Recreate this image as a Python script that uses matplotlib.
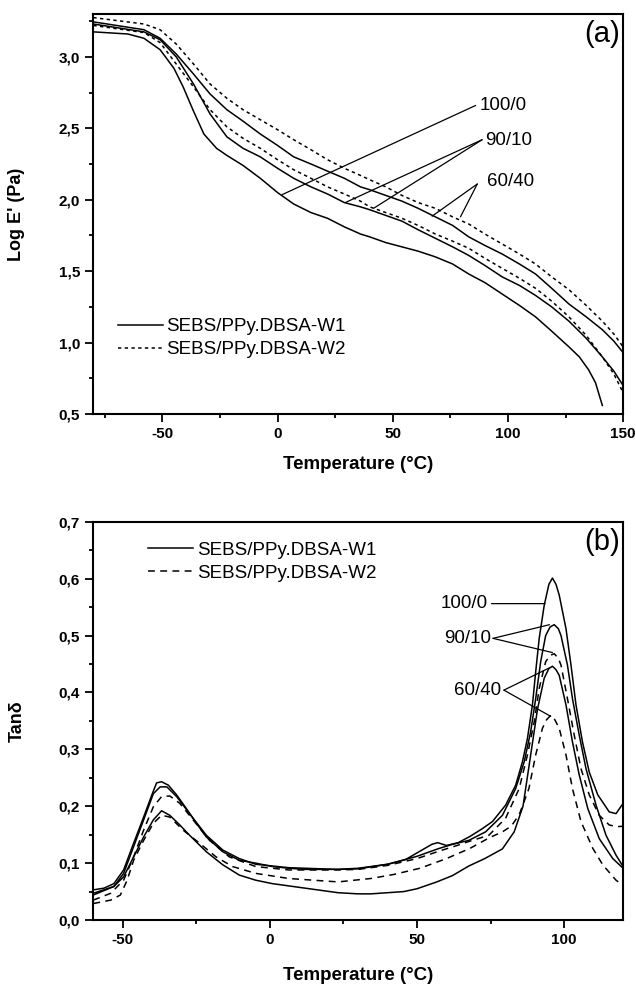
import matplotlib
matplotlib.use('Agg')
import matplotlib.pyplot as plt
from matplotlib.ticker import MultipleLocator, FuncFormatter
from matplotlib.lines import Line2D

plt.rcParams['font.family'] = ['Liberation Sans', 'DejaVu Sans']
plt.rcParams['axes.unicode_minus'] = False

# ---- (a) storage modulus, Log E' vs temperature ----
t_100_0_a = [-80, -65, -58, -51, -45, -41, -36.5, -32, -26.5, -22, -15, -7.5, 0, 7, 14.5, 21.7,
             29, 36, 40, 47, 54, 61, 68.5, 76, 83, 90, 97.5, 105, 112, 119, 126.5, 131, 135, 138, 141]
e_100_0_a = [3.175, 3.16, 3.13, 3.05, 2.92, 2.79, 2.62, 2.46, 2.36, 2.31, 2.24, 2.15, 2.05, 1.97, 1.91, 1.87,
             1.81, 1.76, 1.74, 1.70, 1.67, 1.64, 1.60, 1.55, 1.48, 1.42, 1.34, 1.26, 1.18, 1.08, 0.97, 0.90, 0.81, 0.72, 0.56]

t_a = [-80, -58, -51, -44, -36.5, -29.3, -22, -15, -7.5, 0, 7, 14.5, 21.7, 29, 36, 40,
       47, 54, 61, 68.5, 76, 83, 90, 97.5, 105, 112, 119, 126.5, 134, 141, 146, 150]
e_90_10_w1 = [3.23, 3.175, 3.12, 3.00, 2.81, 2.60, 2.44, 2.36, 2.30, 2.22, 2.15, 2.09, 2.04, 1.98, 1.95, 1.93,
              1.89, 1.85, 1.79, 1.73, 1.67, 1.61, 1.54, 1.46, 1.40, 1.33, 1.25, 1.15, 1.03, 0.90, 0.80, 0.70]
e_90_10_w2 = [3.22, 3.17, 3.10, 2.95, 2.79, 2.63, 2.51, 2.43, 2.36, 2.28, 2.21, 2.15, 2.09, 2.04, 1.99, 1.95,
              1.91, 1.87, 1.82, 1.76, 1.71, 1.66, 1.59, 1.52, 1.45, 1.38, 1.29, 1.18, 1.05, 0.90, 0.78, 0.65]
e_60_40_w1 = [3.245, 3.19, 3.13, 3.02, 2.88, 2.74, 2.63, 2.55, 2.46, 2.38, 2.30, 2.25, 2.20, 2.15, 2.09, 2.07,
              2.03, 1.99, 1.94, 1.88, 1.82, 1.74, 1.68, 1.62, 1.55, 1.48, 1.38, 1.27, 1.18, 1.09, 1.01, 0.93]
e_60_40_w2 = [3.275, 3.23, 3.19, 3.09, 2.95, 2.81, 2.71, 2.63, 2.56, 2.49, 2.42, 2.35, 2.28, 2.22, 2.17, 2.14,
              2.09, 2.03, 1.98, 1.94, 1.88, 1.83, 1.76, 1.69, 1.62, 1.55, 1.46, 1.37, 1.26, 1.15, 1.06, 0.97]

# ---- (b) tan delta vs temperature ----
t_100_0_b = [-60, -56.4, -53, -49.7, -46.3, -42.9, -40.1, -38.5, -36.8, -34.5, -31.7, -28.4, -25, -21.6, -16,
             -10.4, -4.8, 0.8, 6.4, 12, 23, 30, 40, 46, 52, 55, 57, 60, 64, 68, 72, 75.6, 80.1, 83.5, 85.8,
             87.5, 89.2, 90.3, 91.5, 93.2, 94.8, 96, 97.2, 98.3, 100.6, 102.3, 104, 106.2, 108.5, 111.4,
             115.3, 117.6, 119.6, 120]
tan_100_0 = [0.053, 0.056, 0.064, 0.088, 0.135, 0.181, 0.22, 0.241, 0.243, 0.237, 0.22, 0.196, 0.17, 0.146, 0.12,
             0.105, 0.10, 0.094, 0.091, 0.089, 0.089, 0.091, 0.098, 0.106, 0.124, 0.133, 0.136, 0.131, 0.136, 0.147, 0.16, 0.173, 0.202, 0.237, 0.278,
             0.319, 0.378, 0.436, 0.495, 0.553, 0.59, 0.601, 0.59, 0.571, 0.512, 0.448, 0.378, 0.313, 0.26, 0.22,
             0.19, 0.187, 0.202, 0.205]

t_90_10_b1 = [-60, -53, -49.7, -46.3, -42.9, -39.6, -37.3, -35, -31.7, -27.3, -21.6, -16, -10.4, -4.8, 6.4, 23,
              30, 40, 50, 57, 62, 67.6, 73.3, 79, 83.5, 86.4, 88.6, 90.3, 92, 93.7, 95.2, 96.6, 98, 98.9,
              101.1, 102.8, 105.1, 107.4, 110.8, 114.2, 117.6, 120]
tan_90_10_w1 = [0.047, 0.059, 0.082, 0.129, 0.176, 0.222, 0.234, 0.234, 0.217, 0.187, 0.149, 0.123, 0.108, 0.098, 0.092, 0.089,
                0.09, 0.098, 0.112, 0.125, 0.133, 0.14, 0.155, 0.184, 0.231, 0.278, 0.331, 0.389, 0.454, 0.50, 0.515, 0.519, 0.512, 0.50,
                0.448, 0.389, 0.325, 0.266, 0.202, 0.149, 0.114, 0.094]

t_90_10_b2 = [-60, -54.1, -49.7, -46.3, -42.9, -39.6, -36.8, -34, -30.6, -26.1, -20.5, -13.8, -4.8, 6.4, 23,
              30, 40, 50, 58, 63, 67.6, 74.4, 80.1, 84.7, 87.5, 89.8, 91.5, 93.7, 95.2, 96.6, 98, 98.9,
              101.1, 103.4, 105.7, 108.5, 111.9, 115.3, 118, 120]
tan_90_10_w2 = [0.035, 0.047, 0.07, 0.111, 0.158, 0.199, 0.217, 0.218, 0.205, 0.176, 0.14, 0.111, 0.094, 0.088, 0.088,
                0.089, 0.096, 0.108, 0.122, 0.13, 0.138, 0.149, 0.179, 0.231, 0.29, 0.348, 0.407, 0.454, 0.465, 0.468, 0.46, 0.448,
                0.389, 0.325, 0.266, 0.22, 0.184, 0.167, 0.164, 0.165]

t_60_40_b1 = [-60, -53, -49.7, -46.3, -42.9, -39.6, -36.8, -34, -30.6, -27.3, -21.6, -16, -10.4, -4.8, 0.8, 12,
              23.2, 30, 34.3, 45.5, 50, 56.7, 62, 67.6, 73, 79, 83, 86, 88.6, 90.9, 93.2, 94.8, 96, 97.2,
              98.3, 100.6, 102.8, 105.1, 108, 111.9, 116.5, 120]
tan_60_40_w1 = [0.044, 0.059, 0.076, 0.111, 0.146, 0.176, 0.192, 0.184, 0.167, 0.149, 0.12, 0.097, 0.079, 0.07, 0.064, 0.056,
                0.048, 0.046, 0.046, 0.05, 0.055, 0.067, 0.078, 0.095, 0.108, 0.125, 0.155, 0.2, 0.29, 0.37, 0.425, 0.442, 0.446, 0.44,
                0.43, 0.378, 0.313, 0.255, 0.196, 0.143, 0.108, 0.091]

t_60_40_b2 = [-60, -54.1, -50.8, -48.5, -46.3, -42.9, -39.6, -36.8, -34, -29.5, -23.9, -18.3, -12.7, -4.8, 6.4, 23.2,
              34.3, 42, 51, 60, 68, 74.7, 79, 82, 84.7, 88, 90.3, 92.6, 94, 95.5, 96.8, 98.3, 100.6, 102.8,
              105.7, 109.7, 113.1, 117.6, 120]
tan_60_40_w2 = [0.029, 0.035, 0.044, 0.07, 0.105, 0.14, 0.17, 0.184, 0.181, 0.158, 0.135, 0.111, 0.094, 0.082, 0.073, 0.067,
                0.073, 0.08, 0.091, 0.108, 0.126, 0.145, 0.155, 0.165, 0.185, 0.231, 0.29, 0.337, 0.352, 0.36, 0.352, 0.337, 0.29, 0.231,
                0.173, 0.126, 0.097, 0.07, 0.061]

legend_labels = ['SEBS/PPy.DBSA-W1', 'SEBS/PPy.DBSA-W2']

LW = 1.1
dash_a = (0, (2.2, 2.2))
dash_b = (0, (4.5, 3.5))


def comma(v, pos):
    return ('%.1f' % v).replace('.', ',')


def style_axes(ax):
    for s in ax.spines.values():
        s.set_linewidth(1.5)
    ax.tick_params(which='both', direction='out', top=False, right=False, width=1.3)
    ax.tick_params(which='major', length=5.5, pad=4, labelsize=11)
    ax.tick_params(which='minor', length=3.2)
    for lab in ax.get_xticklabels() + ax.get_yticklabels():
        lab.set_fontweight('bold')
    ax.yaxis.set_major_formatter(FuncFormatter(comma))
    ax.xaxis.set_major_formatter(FuncFormatter(lambda v, p: '%d' % v))


fig = plt.figure(figsize=(6.36, 9.86), dpi=100)

# ---------------- panel (a) ----------------
ax1 = fig.add_axes([0.1467, 0.5801, 0.833, 0.4057])
ax1.plot(t_100_0_a, e_100_0_a, 'k-', lw=LW)
ax1.plot(t_a, e_90_10_w1, 'k-', lw=LW)
ax1.plot(t_a, e_60_40_w1, 'k-', lw=LW)
ax1.plot(t_a, e_90_10_w2, color='k', ls=dash_a, lw=LW)
ax1.plot(t_a, e_60_40_w2, color='k', ls=dash_a, lw=LW)
ax1.set_xlim(-80, 150)
ax1.set_ylim(0.5, 3.3)
ax1.xaxis.set_major_locator(MultipleLocator(50))
ax1.xaxis.set_minor_locator(MultipleLocator(25))
ax1.yaxis.set_major_locator(MultipleLocator(0.5))
ax1.yaxis.set_minor_locator(MultipleLocator(0.25))
style_axes(ax1)
ax1.set_xlabel('Temperature (°C)', fontsize=13.5, fontweight='bold')
ax1.set_ylabel("Log E' (Pa)", fontsize=13, fontweight='bold')
ax1.xaxis.set_label_coords(0.5, -0.105)
ax1.yaxis.set_label_coords(-0.128, 0.5)

line_kw = dict(arrowprops=dict(arrowstyle='-', lw=0.9, shrinkA=0, shrinkB=0, color='k'))
ax1.annotate('', xy=(1.9, 2.035), xytext=(86, 2.66), **line_kw)
ax1.text(87.5, 2.66, '100/0', fontsize=13.5, va='center', ha='left')
ax1.annotate('', xy=(29.4, 1.98), xytext=(88.8, 2.42), **line_kw)
ax1.annotate('', xy=(41.7, 1.94), xytext=(88.8, 2.42), **line_kw)
ax1.text(90, 2.415, '90/10', fontsize=13.5, va='center', ha='left')
ax1.annotate('', xy=(67.1, 1.885), xytext=(86.7, 2.11), **line_kw)
ax1.annotate('', xy=(79.4, 1.88), xytext=(86.7, 2.11), **line_kw)
ax1.text(91, 2.125, '60/40', fontsize=13.5, va='center', ha='left')
ax1.text(148.5, 3.16, '(a)', fontsize=21, va='center', ha='right')

handles_a = [Line2D([], [], color='k', lw=LW), Line2D([], [], color='k', lw=LW, ls=dash_a)]
ax1.legend(handles_a, legend_labels, loc='upper left', bbox_to_anchor=(0.046, 0.24),
           frameon=False, fontsize=13.5, handlelength=2.4, handletextpad=0.2,
           labelspacing=0.32, borderpad=0, borderaxespad=0)

# ---------------- panel (b) ----------------
ax2 = fig.add_axes([0.1467, 0.0669, 0.833, 0.404])
ax2.plot(t_100_0_b, tan_100_0, 'k-', lw=LW)
ax2.plot(t_90_10_b1, tan_90_10_w1, 'k-', lw=LW)
ax2.plot(t_60_40_b1, tan_60_40_w1, 'k-', lw=LW)
ax2.plot(t_90_10_b2, tan_90_10_w2, color='k', ls=dash_b, lw=LW)
ax2.plot(t_60_40_b2, tan_60_40_w2, color='k', ls=dash_b, lw=LW)
ax2.set_xlim(-60, 120)
ax2.set_ylim(0.0, 0.7)
ax2.xaxis.set_major_locator(MultipleLocator(50))
ax2.xaxis.set_minor_locator(MultipleLocator(25))
ax2.yaxis.set_major_locator(MultipleLocator(0.1))
ax2.yaxis.set_minor_locator(MultipleLocator(0.05))
style_axes(ax2)
ax2.set_xlabel('Temperature (°C)', fontsize=13.5, fontweight='bold')
ax2.set_ylabel('Tanδ', fontsize=13, fontweight='bold')
ax2.xaxis.set_label_coords(0.5, -0.118)
ax2.yaxis.set_label_coords(-0.128, 0.5)

ax2.annotate('', xy=(93.5, 0.556), xytext=(75.3, 0.556), **line_kw)
ax2.text(74, 0.556, '100/0', fontsize=13.5, va='center', ha='right')
ax2.annotate('', xy=(95, 0.519), xytext=(75.8, 0.495), **line_kw)
ax2.annotate('', xy=(96, 0.47), xytext=(75.8, 0.495), **line_kw)
ax2.text(75, 0.495, '90/10', fontsize=13.5, va='center', ha='right')
ax2.annotate('', xy=(94.9, 0.443), xytext=(79.5, 0.404), **line_kw)
ax2.annotate('', xy=(95.4, 0.358), xytext=(79.5, 0.404), **line_kw)
ax2.text(78.5, 0.404, '60/40', fontsize=13.5, va='center', ha='right')
ax2.text(118.8, 0.665, '(b)', fontsize=21, va='center', ha='right')

handles_b = [Line2D([], [], color='k', lw=LW), Line2D([], [], color='k', lw=LW, ls=dash_b)]
ax2.legend(handles_b, legend_labels, loc='upper left', bbox_to_anchor=(0.103, 0.95),
           frameon=False, fontsize=13.5, handlelength=2.4, handletextpad=0.25,
           labelspacing=0.32, borderpad=0, borderaxespad=0)

fig.savefig('out.png', dpi=100)
